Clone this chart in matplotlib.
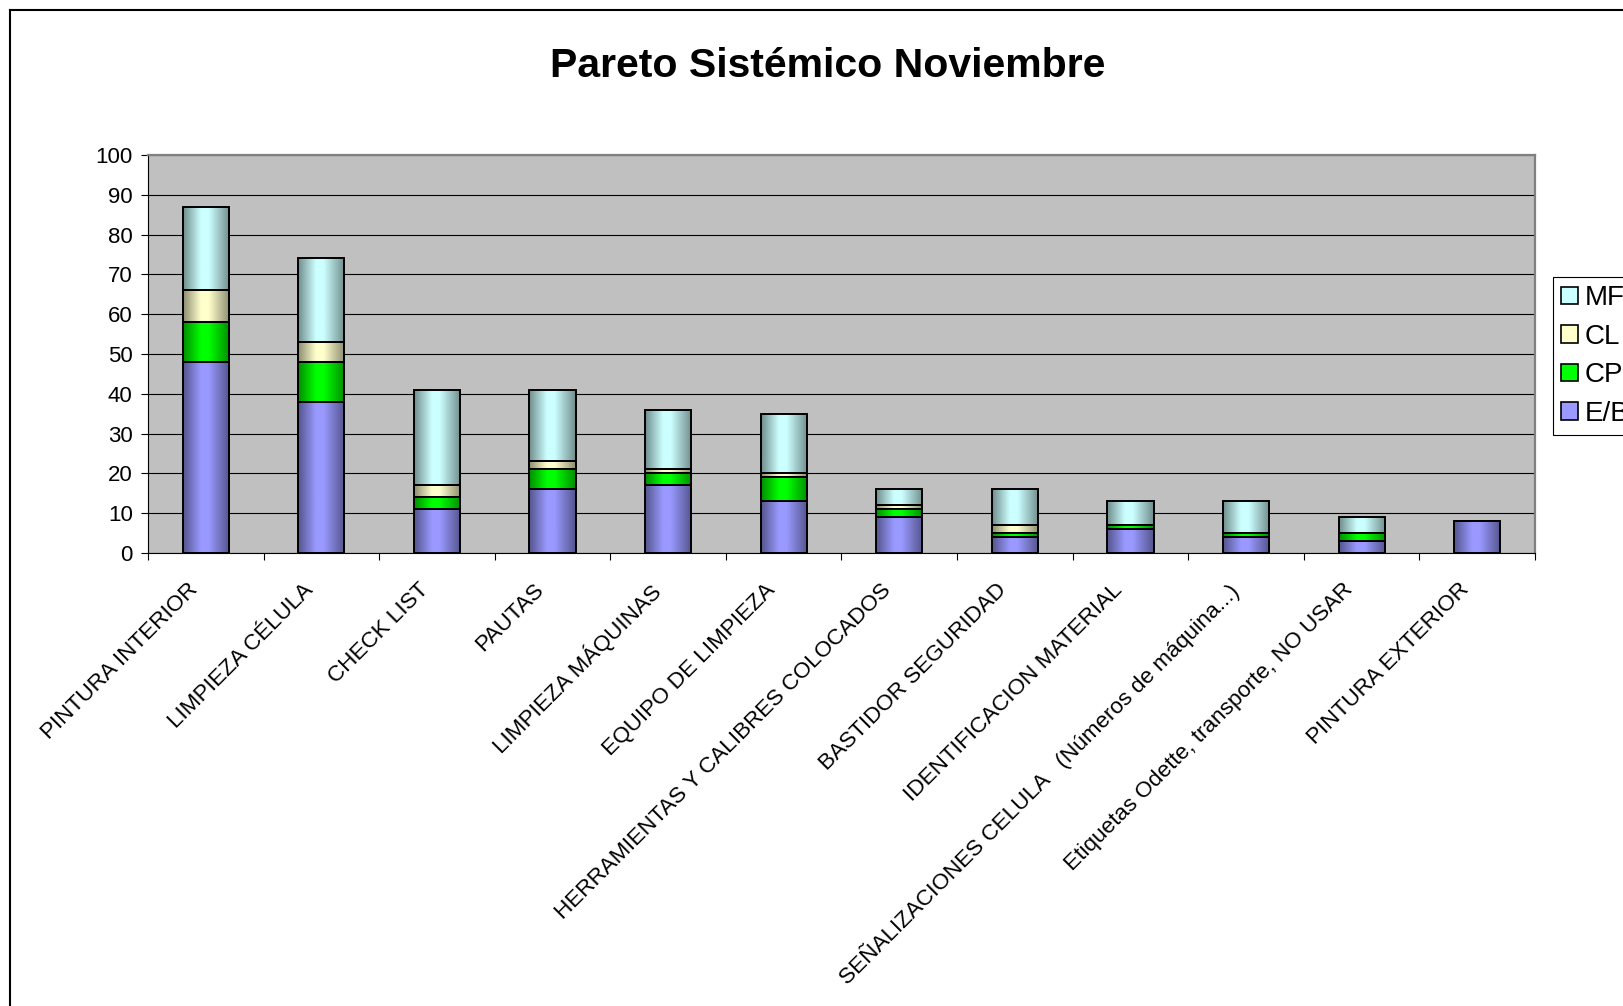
import numpy as np
import matplotlib
matplotlib.use("Agg")
import matplotlib.pyplot as plt
from matplotlib.colors import LinearSegmentedColormap, to_rgb
from matplotlib.patches import Patch
from matplotlib.lines import Line2D
from matplotlib.transforms import ScaledTranslation

plt.rcParams['font.family'] = ['Liberation Sans', 'DejaVu Sans']

categories = [
    'PINTURA INTERIOR',
    'LIMPIEZA CÉLULA',
    'CHECK LIST',
    'PAUTAS',
    'LIMPIEZA MÁQUINAS',
    'EQUIPO DE LIMPIEZA',
    'HERRAMIENTAS Y CALIBRES COLOCADOS',
    'BASTIDOR SEGURIDAD',
    'IDENTIFICACION MATERIAL',
    'SEÑALIZACIONES CELULA   (Números de máquina...)',
    'Etiquetas Odette, transporte, NO USAR',
    'PINTURA EXTERIOR',
]
eb = [48, 38, 11, 16, 17, 13, 9, 4, 6, 4, 3, 8]
cp = [10, 10, 3, 5, 3, 6, 2, 1, 1, 1, 2, 0]
cl = [8, 5, 3, 2, 1, 1, 1, 2, 0, 0, 0, 0]
mf = [21, 21, 24, 18, 15, 15, 4, 9, 6, 8, 4, 0]

series = [
    ('E/B', eb, '#9999FF'),
    ('CP', cp, '#00FF00'),
    ('CL', cl, '#FFFFCC'),
    ('MF', mf, '#CCFFFF'),
]


def shade_cmap(color, dark=0.55):
    # dark edges, light centre: cylinder-like shading across each bar
    c = np.array(to_rgb(color))
    d = c * dark
    return LinearSegmentedColormap.from_list(
        'shade', [(0, d), (0.38, c), (0.55, c), (1, d)])


W, H = 1623, 1006
fig = plt.figure(figsize=(W / 100, H / 100), dpi=100)
ax = fig.add_axes([148 / W, 1 - 553 / H, (1535 - 148) / W, (553 - 155) / H])
ax.set_facecolor('#C0C0C0')

x = np.arange(len(categories))
width = 0.4
grad = np.linspace(0, 1, 128).reshape(1, -1)
bottom = np.zeros(len(categories))
for name, vals, color in series:
    vals = np.array(vals, dtype=float)
    bars = ax.bar(x, vals, width, bottom=bottom, facecolor='none',
                  edgecolor='black', linewidth=1.4, zorder=3)
    cmap = shade_cmap(color)
    for b, v in zip(bars, vals):
        if v > 0:
            x0, y0 = b.get_x(), b.get_y()
            ax.imshow(grad, cmap=cmap, aspect='auto', interpolation='bilinear',
                      extent=[x0, x0 + b.get_width(), y0, y0 + b.get_height()],
                      zorder=2)
    bottom += vals

ax.set_xlim(-0.5, len(categories) - 0.5)
ax.set_ylim(0, 100)

ax.yaxis.grid(True, color='black', linewidth=0.8)
ax.set_axisbelow(True)
for side in ('left', 'bottom'):
    ax.spines[side].set_color('black')
    ax.spines[side].set_linewidth(0.8)
for side in ('top', 'right'):
    ax.spines[side].set_color('#808080')
    ax.spines[side].set_linewidth(1.6)

ax.set_yticks(range(0, 101, 10))
ax.tick_params(axis='y', direction='out', length=5, width=0.8, labelsize=16, pad=6)

ax.set_xticks(x)
ax.set_xticklabels(categories, rotation=45, ha='right', va='top',
                   rotation_mode='anchor', fontsize=16.2)
ax.set_xticks(np.arange(-0.5, len(categories), 1), minor=True)
ax.tick_params(axis='x', which='major', length=0, pad=19)
ax.tick_params(axis='x', which='minor', direction='out', length=5, width=0.8)
shift = ScaledTranslation(-19 / 100, 0, fig.dpi_scale_trans)
for lbl in ax.get_xticklabels():
    lbl.set_transform(lbl.get_transform() + shift)

handles = [Patch(facecolor=c, edgecolor='black', linewidth=1.2, label=n)
           for n, _, c in reversed(series)]
leg = fig.legend(handles=handles, loc='upper left',
                 bbox_to_anchor=(1553 / W, 1 - 277 / H), bbox_transform=fig.transFigure,
                 frameon=True, fancybox=False, edgecolor='black', framealpha=1,
                 fontsize=20, handlelength=0.6, handleheight=0.6, handletextpad=0.25,
                 labelspacing=0.45, borderpad=0.3, borderaxespad=0)
leg.get_frame().set_linewidth(0.8)

fig.text(827.6 / W, 1 - 66 / H, 'Pareto Sistémico Noviembre', ha='center', va='center',
         fontsize=29.5, fontweight='bold')

# chart area outline (left and top edges)
bx, by = 9.5 / W, 1 - 10 / H
fig.add_artist(Line2D([bx, bx], [0, by], transform=fig.transFigure, color='black', linewidth=1.5))
fig.add_artist(Line2D([bx, 1], [by, by], transform=fig.transFigure, color='black', linewidth=1.5))

fig.savefig('out.png', dpi=100)
